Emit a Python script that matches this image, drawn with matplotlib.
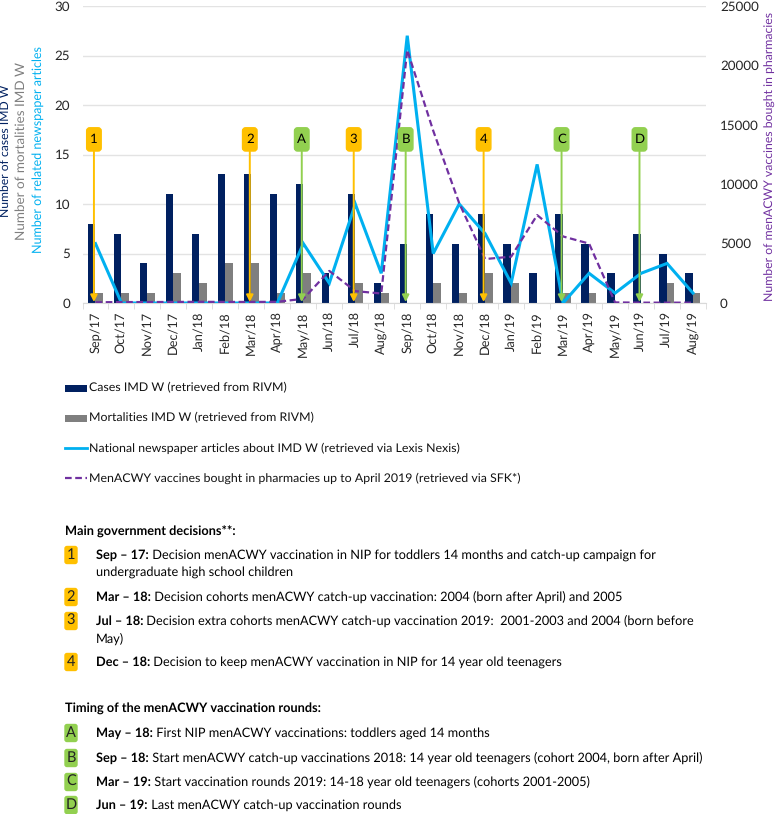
#!/usr/bin/env python

import numpy as np
import matplotlib
matplotlib.use("Agg")
import matplotlib.pyplot as plt
from matplotlib.patches import FancyBboxPatch

plt.rcParams["font.family"] = ["Lato", "DejaVu Sans"]
plt.rcParams["text.hinting"] = "none"

NAVY = "#002060"
GREY = "#7f7f7f"
BLUE = "#00b0f0"
PURPLE = "#7030a0"
ORANGE = "#ffc000"
GREEN = "#92d050"

months = ["Sep/17", "Oct/17", "Nov/17", "Dec/17", "Jan/18", "Feb/18", "Mar/18", "Apr/18",
          "May/18", "Jun/18", "Jul/18", "Aug/18", "Sep/18", "Oct/18", "Nov/18", "Dec/18",
          "Jan/19", "Feb/19", "Mar/19", "Apr/19", "May/19", "Jun/19", "Jul/19", "Aug/19"]
cases = [8, 7, 4, 11, 7, 13, 13, 11, 12, 3, 11, 2, 6, 9, 6, 9, 6, 3, 9, 6, 3, 7, 5, 3]
deaths = [1, 1, 1, 3, 2, 4, 4, 1, 3, 0, 2, 1, 0, 2, 1, 3, 2, 0, 1, 1, 0, 0, 2, 1]
articles = [6, 0, 0, 0, 0, 0, 0, 0, 6, 2, 10, 3, 27, 5, 10, 7, 2, 14, 0, 3, 1, 3, 4, 1]
vaccines = [60, 80, 80, 90, 100, 90, 90, 100, 350, 2700, 1000, 800, 21300, 14500, 8400,
            3700, 3900, 7400, 5600, 5000, 50, 30, 30, 30]

decision_events = [("1", "Sep/17"), ("2", "Mar/18"), ("3", "Jul/18"), ("4", "Dec/18")]
round_events = [("A", "May/18"), ("B", "Sep/18"), ("C", "Mar/19"), ("D", "Jun/19")]

legend_labels = ["Cases IMD W (retrieved from RIVM)",
                 "Mortalities IMD W (retrieved from RIVM)",
                 "National newspaper articles about IMD W (retrieved via Lexis Nexis)",
                 "MenACWY vaccines bought in pharmacies up to April 2019 (retrieved via SFK*)"]

decision_notes = [("1", "Sep – 17:", " Decision menACWY vaccination in NIP for toddlers 14 months and catch-up campaign for",
                   "undergraduate high school children"),
                  ("2", "Mar – 18:", " Decision cohorts menACWY catch-up vaccination: 2004 (born after April) and 2005", ""),
                  ("3", "Jul – 18:", " Decision extra cohorts menACWY catch-up vaccination 2019:  2001-2003 and 2004 (born before",
                   "May)"),
                  ("4", "Dec – 18:", " Decision to keep menACWY vaccination in NIP for 14 year old teenagers", "")]
round_notes = [("A", "May – 18:", " First NIP menACWY vaccinations: toddlers aged 14 months"),
               ("B", "Sep – 18:", " Start menACWY catch-up vaccinations 2018: 14 year old teenagers (cohort 2004, born after April)"),
               ("C", "Mar – 19:", " Start vaccination rounds 2019: 14-18 year old teenagers (cohorts 2001-2005)"),
               ("D", "Jun – 19:", " Last menACWY catch-up vaccination rounds")]

W, H = 780, 814
AX_L, AX_R, AX_T, AX_B = 82.5, 706, 6, 303
NOTE_SIZE = 9.2


def draw_event(ax, label, month, color):
    x = months.index(month) - 0.06
    box = FancyBboxPatch((x - 0.28, 15.35), 0.56, 2.35, boxstyle="round,pad=0,rounding_size=0.12",
                         mutation_aspect=2.6, facecolor=color, edgecolor=color, lw=1, zorder=6)
    ax.add_patch(box)
    ax.text(x, 16.5, label, ha="center", va="center", fontsize=9.5, color="k", zorder=7)
    ax.annotate("", xy=(x, 0.1), xytext=(x, 15.3), zorder=6,
                arrowprops=dict(arrowstyle="-|>,head_width=0.2,head_length=0.4", color=color, lw=1.4,
                                shrinkA=0, shrinkB=0))


def draw_chart(fig):
    ax = fig.add_axes([AX_L/W, 1 - AX_B/H, (AX_R - AX_L)/W, (AX_B - AX_T)/H])
    xs = np.arange(len(months))
    ax.bar(xs - 0.15, cases, width=0.29, color=NAVY, zorder=2)
    ax.bar(xs + 0.14, deaths, width=0.29, color=GREY, zorder=2)
    ax.plot(xs, articles, color=BLUE, lw=2.2, zorder=4, solid_joinstyle="miter")

    ax.set_xlim(-0.5, len(months) - 0.5)
    ax.set_ylim(0, 30)
    ax.set_yticks(range(0, 31, 5))
    ax.set_xticks(xs)
    ax.set_xticklabels(months, rotation=90, fontsize=9.2, color="#262626")
    ax.set_xticks(np.arange(-0.5, len(months)), minor=True)
    ax.tick_params(axis="x", which="major", length=0, pad=6)
    ax.tick_params(axis="x", which="minor", length=4, color="#d9d9d9")
    ax.tick_params(axis="y", length=0, labelsize=9.6, labelcolor="#262626", pad=9)
    ax.grid(axis="y", color="#e3e3e3", lw=1, zorder=0)
    ax.set_axisbelow(True)
    for side in ["top", "left", "right"]:
        ax.spines[side].set_visible(False)
    ax.spines["bottom"].set_color("#d9d9d9")

    ax2 = ax.twinx()
    ax2.plot(xs, vaccines, color=PURPLE, lw=1.6, ls=(0, (3, 1.6)), zorder=5)
    ax2.set_ylim(0, 25000)
    ax2.set_yticks(range(0, 25001, 5000))
    ax2.tick_params(axis="y", length=0, labelsize=9.6, labelcolor="#262626", pad=10)
    for side in ["top", "left", "right", "bottom"]:
        ax2.spines[side].set_visible(False)

    # events go on the top axes so they sit over both lines
    ax3 = ax.twinx()
    ax3.set_ylim(0, 30)
    ax3.axis("off")
    for label, month in decision_events:
        draw_event(ax3, label, month, ORANGE)
    for label, month in round_events:
        draw_event(ax3, label, month, GREEN)


def bold_then_plain(page, renderer, x, y, bold, plain, size):
    t = page.text(x, y, bold, fontsize=size, fontweight="bold", va="center", ha="left")
    bb = t.get_window_extent(renderer)
    page.text(x + bb.width, y, plain, fontsize=size, va="center", ha="left")


def note_badge(page, label, y, color):
    page.add_patch(FancyBboxPatch((65, y - 8.5), 12, 17, boxstyle="round,pad=0,rounding_size=2",
                                  facecolor=color, edgecolor=color, lw=1))
    page.text(71, y - 0.5, label, ha="center", va="center", fontsize=10.5, color="#222222")


def draw_notes(fig):
    page = fig.add_axes([0, 0, 1, 1], facecolor="none")
    page.set_xlim(0, W)
    page.set_ylim(H, 0)
    page.axis("off")
    renderer = fig.canvas.get_renderer()

    # y axis titles, stacked like the original
    page.text(6, 151, "Number of cases IMD W", rotation=90, color=NAVY, fontsize=8.7, ha="center", va="center")
    page.text(21, 151, "Number of mortalities IMD W", rotation=90, color=GREY, fontsize=9.7, ha="center", va="center")
    page.text(38, 150, "Number of related newspaper articles", rotation=90, color=BLUE, fontsize=9, ha="center", va="center")
    page.text(770, 156, "Number of menACWY vaccines bought in pharmacies", rotation=90, color=PURPLE,
              fontsize=8.85, ha="center", va="center")

    # legend
    legend_y = [388, 418, 448, 478]
    page.fill_between([65, 86.5], legend_y[0] - 3.5, legend_y[0] + 3.5, color=NAVY, lw=0)
    page.fill_between([65, 86.5], legend_y[1] - 3.5, legend_y[1] + 3.5, color=GREY, lw=0)
    page.plot([65, 87], [legend_y[2], legend_y[2]], color=BLUE, lw=2)
    page.plot([65, 87], [legend_y[3], legend_y[3]], color=PURPLE, lw=1.6, ls=(0, (3, 1.6)))
    for y, label in zip(legend_y, legend_labels):
        page.text(89, y, label, fontsize=8.9, va="center", color="#111111")

    page.text(65, 532, "Main government decisions**:", fontsize=NOTE_SIZE, fontweight="bold", va="center")
    decision_rows = [555, 597, 621, 662]
    for (label, bold, plain, second), y in zip(decision_notes, decision_rows):
        note_badge(page, label, y, ORANGE)
        bold_then_plain(page, renderer, 96, y, bold, plain, NOTE_SIZE)
        if second:
            page.text(96, y + 17.5, second, fontsize=NOTE_SIZE, va="center")

    page.text(65, 709, "Timing of the menACWY vaccination rounds:", fontsize=NOTE_SIZE, fontweight="bold", va="center")
    round_rows = [733, 758, 782, 805]
    for (label, bold, plain), y in zip(round_notes, round_rows):
        note_badge(page, label, y, GREEN)
        bold_then_plain(page, renderer, 96, y, bold, plain, NOTE_SIZE)


def main():
    fig = plt.figure(figsize=(W/100, H/100), dpi=100)
    draw_chart(fig)
    draw_notes(fig)
    fig.savefig("out.png", dpi=100)


if __name__ == "__main__":
    main()
